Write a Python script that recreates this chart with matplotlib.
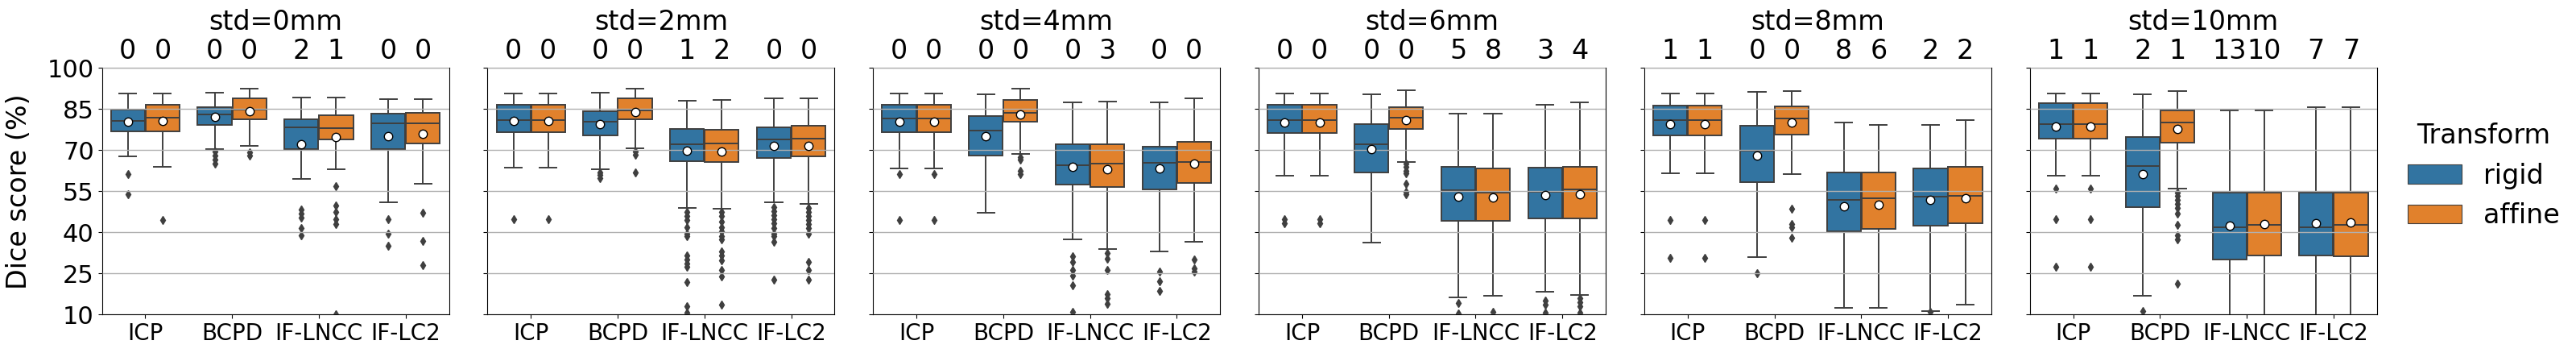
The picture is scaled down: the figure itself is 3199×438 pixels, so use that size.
import matplotlib
matplotlib.use('Agg')
import matplotlib.pyplot as plt
from matplotlib.patches import Patch
from matplotlib.transforms import blended_transform_factory

titles = ['std=0mm', 'std=2mm', 'std=4mm', 'std=6mm', 'std=8mm', 'std=10mm']
methods = ['ICP', 'BCPD', 'IF-LNCC', 'IF-LC2']
transforms = ['rigid', 'affine']
colors = ['#3274a1', '#e1812c']
line_col = '#3f3f3f'

# box order in each panel: ICP rigid, ICP affine, BCPD rigid, BCPD affine,
# IF-LNCC rigid, IF-LNCC affine, IF-LC2 rigid, IF-LC2 affine
whishi = [
    [90.7, 90.7, 91.0, 92.5, 89.2, 89.2, 88.6, 88.6],
    [90.7, 90.7, 91.0, 92.5, 88.0, 88.3, 88.9, 88.9],
    [90.7, 90.7, 90.4, 92.3, 87.5, 87.7, 87.5, 88.9],
    [90.7, 90.7, 90.4, 91.9, 83.3, 83.3, 86.6, 87.5],
    [90.7, 90.7, 91.3, 91.6, 80.1, 79.2, 79.2, 81.0],
    [90.8, 90.8, 90.4, 91.6, 84.6, 84.6, 85.7, 85.7],
]
q3 = [
    [84.8, 86.7, 85.8, 88.9, 81.4, 82.7, 83.3, 83.6],
    [86.6, 86.6, 84.3, 88.9, 77.7, 77.5, 78.3, 79.0],
    [86.6, 86.6, 82.5, 88.3, 72.1, 72.1, 71.2, 73.0],
    [86.6, 86.6, 79.5, 85.8, 63.9, 63.3, 63.6, 63.9],
    [86.3, 86.3, 78.9, 86.0, 61.9, 61.9, 63.3, 63.9],
    [87.2, 87.2, 74.8, 84.6, 54.5, 54.5, 54.5, 54.5],
]
med = [
    [80.7, 81.8, 83.1, 84.9, 78.3, 78.0, 79.8, 79.8],
    [81.0, 81.0, 80.5, 84.4, 72.2, 72.5, 74.0, 74.3],
    [81.5, 81.5, 77.2, 83.6, 64.5, 65.0, 65.3, 65.8],
    [81.1, 81.1, 72.2, 82.0, 55.5, 54.6, 54.9, 55.8],
    [81.1, 81.1, 69.9, 81.5, 51.9, 52.3, 53.0, 53.4],
    [79.5, 79.5, 64.2, 80.2, 42.0, 42.6, 42.0, 42.6],
]
q1 = [
    [77.0, 77.0, 79.3, 81.3, 70.3, 74.0, 70.3, 72.3],
    [76.6, 76.6, 75.4, 81.3, 66.0, 65.7, 67.2, 67.6],
    [76.6, 76.6, 68.1, 80.4, 57.5, 56.6, 55.7, 58.0],
    [76.4, 76.4, 61.9, 77.7, 44.2, 44.2, 45.1, 45.1],
    [75.4, 75.4, 58.3, 75.8, 40.5, 41.3, 42.5, 43.4],
    [74.2, 74.2, 49.3, 72.8, 30.1, 31.7, 31.7, 31.4],
]
whislo = [
    [67.6, 63.9, 70.5, 71.6, 59.6, 63.0, 51.1, 57.7],
    [63.7, 63.7, 63.0, 70.8, 49.0, 48.7, 51.1, 50.5],
    [63.3, 63.3, 47.2, 68.6, 37.3, 34.0, 33.0, 36.6],
    [60.7, 60.7, 36.3, 65.8, 16.3, 17.0, 18.4, 17.2],
    [61.6, 61.6, 31.0, 61.3, 12.5, 12.5, 11.3, 13.7],
    [60.8, 60.8, 17.0, 56.0, 5.0, 5.0, 5.0, 5.0],
]
means = [
    [80.4, 80.6, 82.1, 84.2, 72.1, 74.8, 75.0, 76.0],
    [80.6, 80.6, 79.4, 83.8, 69.7, 69.4, 71.5, 71.5],
    [80.3, 80.3, 75.0, 83.0, 63.8, 63.0, 63.3, 65.1],
    [80.1, 80.1, 70.3, 80.9, 52.9, 52.6, 53.5, 53.8],
    [79.4, 79.4, 67.9, 80.0, 49.4, 50.0, 51.8, 52.4],
    [78.5, 78.5, 61.3, 77.7, 42.5, 43.1, 43.4, 43.6],
]
fliers = [
    [[61.3, 53.8], [44.4], [69.4, 67.9, 66.5, 65.2], [69.1, 68.1],
     [48.3, 46.9, 45.4, 41.5, 39.0], [57.0, 49.8, 47.4, 44.9, 43.1, 10.1],
     [44.9, 39.5, 35.1], [47.1, 36.8, 27.9]],
    [[44.7], [44.7], [62.0, 61.0, 59.9], [69.4, 68.4, 61.8],
     [47.4, 45.9, 44.4, 42.0, 39.5, 38.5, 31.7, 30.2, 28.7, 27.3, 21.9, 13.0, 10.6],
     [47.4, 45.9, 43.9, 42.0, 40.5, 38.5, 37.5, 33.1, 31.7, 29.7, 26.3, 23.8, 13.5],
     [49.3, 47.8, 46.4, 44.9, 43.4, 41.5, 39.5, 38.5, 36.6, 22.8],
     [48.8, 47.4, 45.9, 44.4, 42.9, 41.5, 39.5, 29.2, 26.3, 22.8]],
    [[61.4, 44.6], [61.4, 44.6], [], [67.5, 66.5, 62.5, 61.3],
     [31.2, 29.2, 26.3, 24.3, 20.6, 11.1], [32.5, 30.5, 26.3, 17.5, 16.0, 14.0],
     [25.6, 22.2, 18.6], [30.0, 26.8, 25.6]],
    [[44.9, 43.4], [44.9, 43.4], [], [65.0, 64.0, 62.5, 61.6, 57.7, 54.7, 54.0],
     [14.2, 10.3], [11.1], [15.0, 13.5, 10.6], [16.0, 14.5, 13.0, 10.6]],
    [[44.4, 30.7], [44.4, 30.7], [25.0], [48.6, 42.9, 42.0, 38.0],
     [], [], [10.9], []],
    [[55.9, 44.7, 27.3], [55.9, 44.7, 27.3], [11.3],
     [54.4, 53.2, 51.8, 50.3, 48.8, 46.9, 42.6, 39.0, 37.5, 21.2],
     [], [], [], []],
]
counts = [
    [0, 0, 0, 0, 2, 1, 0, 0],
    [0, 0, 0, 0, 1, 2, 0, 0],
    [0, 0, 0, 0, 0, 3, 0, 0],
    [0, 0, 0, 0, 5, 8, 3, 4],
    [1, 1, 0, 0, 8, 6, 2, 2],
    [1, 1, 2, 1, 13, 10, 7, 7],
]

W, H = 3199, 438
fig = plt.figure(figsize=(W / 100, H / 100), dpi=100)
lefts = [126.5, 605.4, 1084.2, 1563.1, 2041.9, 2520.8]
ax_w, ax_top, ax_bot = 431, 84.3, 390.3

lw = 1.4
for p in range(6):
    ax = fig.add_axes([lefts[p] / W, (H - ax_bot) / H, ax_w / W, (ax_bot - ax_top) / H])
    stats = []
    pos = []
    for k in range(8):
        stats.append(dict(med=med[p][k], q1=q1[p][k], q3=q3[p][k],
                          whislo=whislo[p][k], whishi=whishi[p][k],
                          mean=means[p][k], fliers=fliers[p][k]))
        pos.append(k // 2 + (-0.2 if k % 2 == 0 else 0.2))
    art = ax.bxp(stats, positions=pos, widths=0.392, patch_artist=True,
                 showmeans=True, manage_ticks=False,
                 boxprops=dict(edgecolor=line_col, linewidth=lw),
                 whiskerprops=dict(color=line_col, linewidth=lw),
                 capprops=dict(color=line_col, linewidth=lw),
                 medianprops=dict(color=line_col, linewidth=lw),
                 flierprops=dict(marker='d', markerfacecolor=line_col,
                                 markeredgecolor=line_col, markersize=5.5),
                 meanprops=dict(marker='o', markerfacecolor='white',
                                markeredgecolor='black', markersize=7.5,
                                markeredgewidth=1.0, zorder=4))
    for k, b in enumerate(art['boxes']):
        b.set_facecolor(colors[k % 2])

    ax.set_xlim(-0.5, 3.5)
    ax.set_ylim(10, 100)
    ax.set_yticks([10, 25, 40, 55, 70, 85, 100])
    ax.set_xticks(range(4))
    ax.set_xticklabels(methods, fontsize=20)
    ax.tick_params(axis='y', labelsize=22, labelleft=(p == 0))
    ax.set_axisbelow(False)
    ax.yaxis.grid(True, color='#b0b0b0', linewidth=1.0)

    trans = blended_transform_factory(ax.transData, ax.transAxes)
    for k in range(8):
        ax.text(pos[k], 1.036, str(counts[p][k]), transform=trans,
                ha='center', va='baseline', fontsize=24)
    ax.text(0.5, 1.154, titles[p], transform=ax.transAxes,
            ha='center', va='baseline', fontsize=24)

    if p == 5:
        handles = [Patch(facecolor=colors[i], edgecolor=line_col, linewidth=0.8)
                   for i in range(2)]
        ax.legend(handles, transforms, title='Transform', loc='center left',
                  bbox_to_anchor=(1.02, 0.563), frameon=False,
                  fontsize=24, title_fontsize=24)

fig.text(24 / W, (H - (ax_top + ax_bot) / 2) / H, 'Dice score (%)',
         rotation=90, ha='center', va='center', fontsize=24)

fig.savefig('out.png', dpi=100)
